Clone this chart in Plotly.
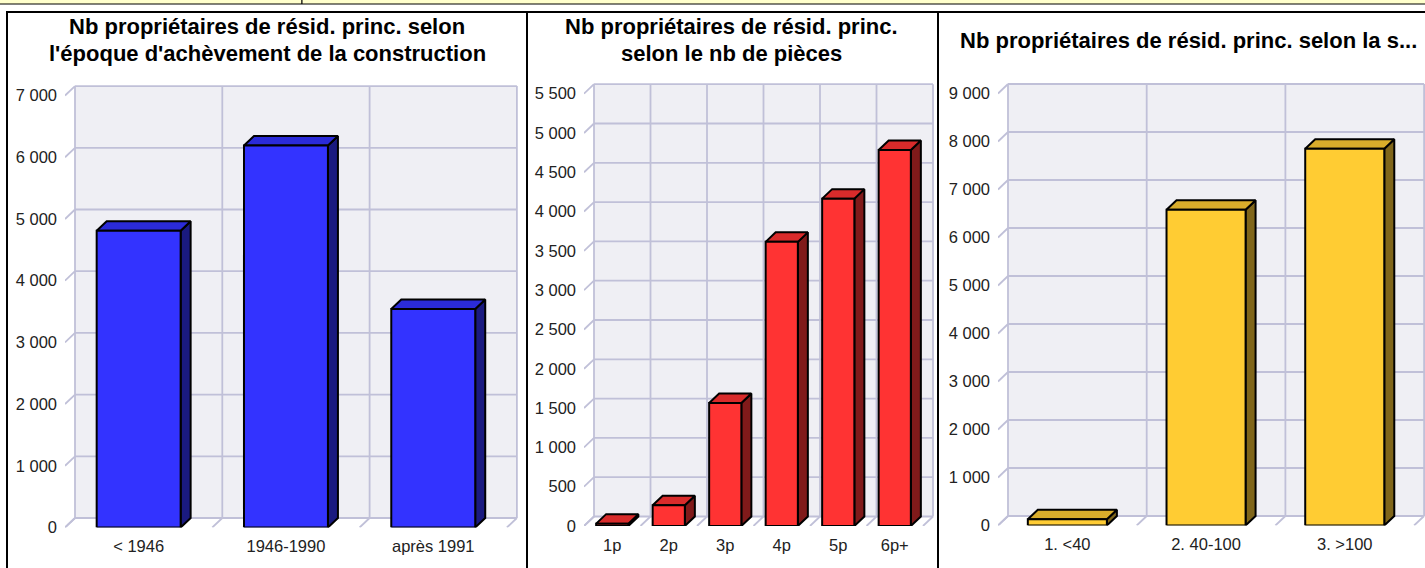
import plotly.graph_objects as go

W, H = 1425, 568

# ---------------- data ----------------
titles = [
    ["Nb propriétaires de résid. princ. selon", "l'époque d'achèvement de la construction"],
    ["Nb propriétaires de résid. princ.", "selon le nb de pièces"],
    ["Nb propriétaires de résid. princ. selon la s..."],
]
cats1 = ["< 1946", "1946-1990", "après 1991"]
vals1 = [4810, 6190, 3540]
cats2 = ["1p", "2p", "3p", "4p", "5p", "6p+"]
vals2 = [30, 265, 1565, 3615, 4165, 4785]
cats3 = ["1. <40", "2. 40-100", "3. >100"]
vals3 = [130, 6580, 7850]
ymax_list = [7000, 5500, 9000]
ystep_list = [1000, 500, 1000]

# ---------------- styles / geometry ----------------
FONT = "Liberation Sans, Arial, Helvetica, sans-serif"
panels = [
    dict(cats=cats1, vals=vals1, left=65, cat_px=147.3, zero=527.5, ppu=0.0617,
         front="#3333FF", top="#2B2BD9", side="#1A1A80",
         box=(7, 527), tcx=267, tys=[27, 53]),
    dict(cats=cats2, vals=vals2, left=584, cat_px=56.5, zero=526.0, ppu=0.0786,
         front="#FF3333", top="#D92B2B", side="#801A1A",
         box=(527, 938), tcx=732, tys=[27, 53]),
    dict(cats=cats3, vals=vals3, left=998, cat_px=138.7, zero=525.5, ppu=0.0480,
         front="#FFCC33", top="#D9AD2B", side="#80661A",
         box=(938, 1440), tcx=1188, tys=[40]),
]
DX_PX, DY_PX = 10, 9.5
BAR_W = 0.57
WALL = "#EFEFF4"
GRID = "#C0C0D8"
TOP_PX = 78
TICK_SIZE = 16.5
TITLE_SIZE = 22

fig = go.Figure()
layout = dict(
    width=W, height=H, margin=dict(l=0, r=0, t=0, b=0),
    paper_bgcolor="white", plot_bgcolor="rgba(0,0,0,0)",
    showlegend=False, separators=", ",
    font=dict(family=FONT, color="#222222", size=TICK_SIZE),
)
shapes = []
annotations = []

for i, p in enumerate(panels):
    sfx = "" if i == 0 else str(i + 1)
    xa, ya = "x" + sfx, "y" + sfx
    cats, vals = p["cats"], p["vals"]
    n = len(cats)
    ymax, ystep = ymax_list[i], ystep_list[i]
    ddx = DX_PX / p["cat_px"]
    ddy = DY_PX / p["ppu"]

    right_px = min(p["left"] + n * p["cat_px"] + DX_PX + 2, W)
    xrange = [-0.5, -0.5 + (right_px - p["left"]) / p["cat_px"]]
    yrange = [0, (p["zero"] - TOP_PX) / p["ppu"]]

    # back wall
    xl, xr = -0.5 + ddx, n - 0.5 + ddx
    fig.add_trace(go.Scatter(
        x=[xl, xr, xr, xl, xl], y=[ddy, ddy, ymax + ddy, ymax + ddy, ddy],
        fill="toself", fillcolor=WALL, mode="lines", line=dict(width=0),
        hoverinfo="skip", xaxis=xa, yaxis=ya))

    # grid lines
    gx, gy = [], []
    ticks = list(range(0, ymax + 1, ystep))
    for v in ticks:
        gx += [xl, xr, None, -0.5, xl, None]
        gy += [v + ddy, v + ddy, None, v, v + ddy, None]
    for k in range(n + 1):
        b = k - 0.5
        gx += [b + ddx, b + ddx, None, b, b + ddx, None]
        gy += [ddy, ymax + ddy, None, 0, ddy, None]
    fig.add_trace(go.Scatter(x=gx, y=gy, mode="lines",
                             line=dict(color=GRID, width=1.8),
                             hoverinfo="skip", xaxis=xa, yaxis=ya))

    # bars: side, top, front
    sx, sy, tx, ty, fx, fy = [], [], [], [], [], []
    for k, v in enumerate(vals):
        x0, x1 = k - BAR_W / 2, k + BAR_W / 2
        sx += [x1, x1 + ddx, x1 + ddx, x1, x1, None]
        sy += [0, ddy, v + ddy, v, 0, None]
        tx += [x0, x1, x1 + ddx, x0 + ddx, x0, None]
        ty += [v, v, v + ddy, v + ddy, v, None]
        fx += [x0, x1, x1, x0, x0, None]
        fy += [0, 0, v, v, 0, None]
    for xs, ys, col in [(sx, sy, p["side"]), (tx, ty, p["top"]), (fx, fy, p["front"])]:
        fig.add_trace(go.Scatter(x=xs, y=ys, fill="toself", fillcolor=col,
                                 mode="lines", line=dict(color="black", width=2),
                                 hoverinfo="skip", xaxis=xa, yaxis=ya))

    layout["xaxis" + sfx] = dict(
        domain=[p["left"] / W, right_px / W], range=xrange, anchor=ya,
        showgrid=False, zeroline=False, showline=False, ticks="",
        tickmode="array", tickvals=list(range(n)), ticktext=cats,
        ticklabelstandoff=7, tickfont=dict(size=TICK_SIZE, color="#222222"),
        fixedrange=True, automargin=False)
    layout["yaxis" + sfx] = dict(
        domain=[1 - p["zero"] / H, 1 - TOP_PX / H], range=yrange, anchor=xa,
        showgrid=False, zeroline=False, showline=False, ticks="",
        tickmode="array", tickvals=ticks, tickformat=",d",
        ticklabelstandoff=7, tickfont=dict(size=TICK_SIZE, color="#222222"),
        fixedrange=True, automargin=False)

    # panel border
    bx0, bx1 = p["box"]
    shapes.append(dict(type="rect", xref="paper", yref="paper",
                       x0=bx0 / W, x1=bx1 / W, y0=1 - 580 / H, y1=1 - 12 / H,
                       line=dict(color="black", width=2), fillcolor="rgba(0,0,0,0)",
                       layer="above"))
    # titles
    for line_txt, ty_px in zip(titles[i], p["tys"]):
        annotations.append(dict(text="<b>" + line_txt + "</b>", xref="paper", yref="paper",
                                x=p["tcx"] / W, y=1 - ty_px / H, xanchor="center",
                                yanchor="middle", showarrow=False,
                                font=dict(size=TITLE_SIZE, color="black", family=FONT)))

# top yellow strip (table row above charts)
shapes.append(dict(type="rect", xref="paper", yref="paper",
                   x0=-2 / W, x1=302 / W, y0=1 - 4 / H, y1=1 + 3 / H,
                   line=dict(color="black", width=1), fillcolor="#FFFFCC", layer="above"))
shapes.append(dict(type="rect", xref="paper", yref="paper",
                   x0=302 / W, x1=1430 / W, y0=1 - 4 / H, y1=1 + 3 / H,
                   line=dict(color="black", width=1), fillcolor="#FFFFCC", layer="above"))

layout["shapes"] = shapes
layout["annotations"] = annotations
fig.update_layout(**layout)
fig.write_html(
    "out.html",
    config={"displayModeBar": False},
    post_script=("document.body.style.margin='0px';"
                 "document.documentElement.style.margin='0px';"
                 "document.body.style.overflow='hidden';"
                 "document.documentElement.style.overflow='hidden';"),
)
